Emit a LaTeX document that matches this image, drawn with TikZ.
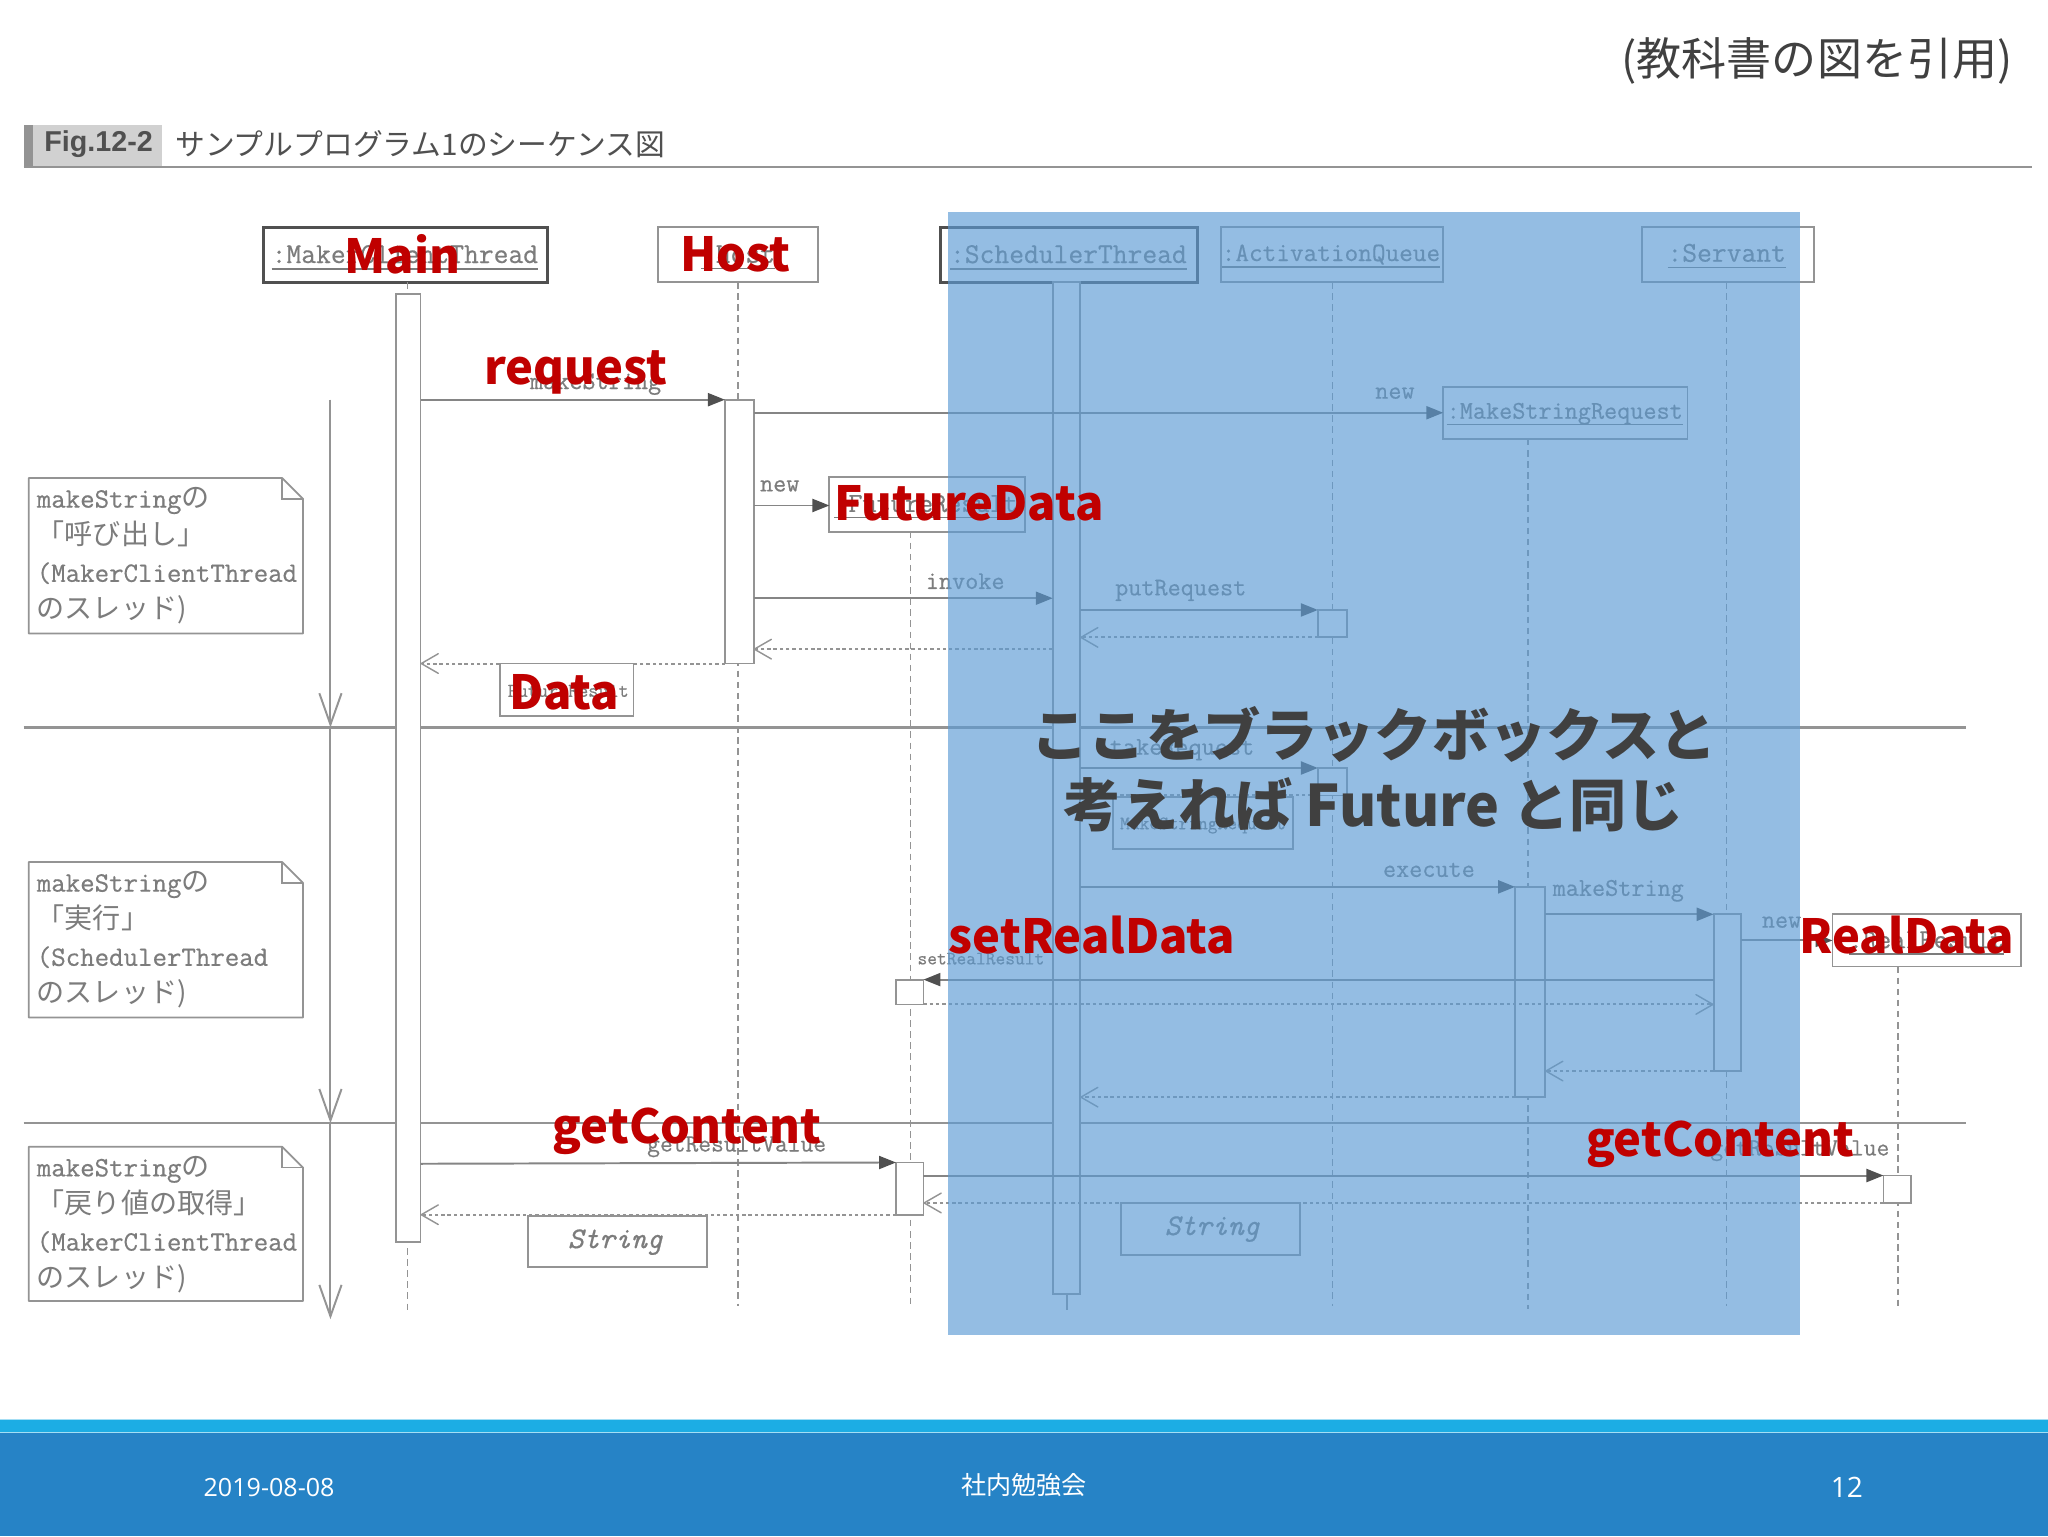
\documentclass[tikz,border=0pt]{standalone}
\usepackage{fontspec}
\usetikzlibrary{arrows.meta}
\newfontfamily\jpf{Noto Sans CJK JP}
\newfontfamily\opf{Open Sans}
\setmainfont{Liberation Sans}
\setmonofont[FakeBold=0.5]{Latin Modern Mono}
\definecolor{lgray}{HTML}{949494}
\definecolor{dgray}{HTML}{505050}
\definecolor{tgray}{HTML}{7C7C7C}
\definecolor{ovblue}{HTML}{5B9BD5}
\definecolor{txtdark}{HTML}{404040}
\definecolor{redlab}{HTML}{C00000}
\definecolor{bandlight}{HTML}{1CADE4}
\definecolor{bandblue}{HTML}{2683C6}
\newcommand{\fs}[1]{\fontsize{#1}{#1}\selectfont}
\newcommand{\myul}[1]{\setbox0\hbox{#1}\rlap{\rule[-5pt]{\wd0}{1.1pt}}\box0}
\tikzset{
  x=1pt,y=-1pt,
  boxbase/.style={draw=lgray,line width=1.4pt,fill=white,inner sep=0pt,outer sep=0pt,anchor=north west},
  headthick/.style={boxbase,draw=dgray,line width=2.2pt},
  actbox/.style={boxbase},
  lifedash/.style={draw=lgray,line width=1.1pt,dash pattern=on 5pt off 3.5pt},
  call/.style={draw=lgray!90!black,line width=1.5pt,-{Triangle[length=13pt,width=10pt,color=dgray]}},
  ret/.style={draw=lgray,line width=1.5pt,dash pattern=on 2.6pt off 2.2pt,-{Straight Barb[length=13pt,width=15pt,color=lgray,line width=1.1pt,round]}},
  time/.style={draw=lgray,line width=1.5pt,-{Straight Barb[length=24pt,width=17pt,line width=1.5pt]}},
  divider/.style={draw=lgray,line width=1.8pt},
  lab/.style={text=tgray,inner sep=0pt,font=\fs{19.5}\ttfamily},
  headlab/.style={text=tgray,inner sep=0pt,font=\fs{22}\ttfamily},
  notetxt/.style={text=tgray,inner sep=0pt,anchor=north west,align=left,font=\fontsize{21.5}{28.4}\selectfont\ttfamily},
  redlabel/.style={text=redlab,inner sep=0pt,font=\fs{36}\jpf\bfseries},
  bbtext/.style={text=txtdark,inner sep=0pt,align=center,font=\fontsize{43.8}{54}\selectfont\jpf\bfseries},
}
\newcommand{\objbox}[6]{\node[#1,minimum width=#4pt-#2pt,minimum height=#5pt-#3pt] (#6) at (#2,#3) {};}
\newcommand{\notebox}[6]{%
  \draw[line width=1.4pt,draw=lgray,fill=white,line join=round] (#2,#3) -- ({#4-16},#3) -- (#4,{#3+16}) -- (#4,#5) -- (#2,#5) -- cycle;
  \draw[line width=1.2pt,draw=lgray] ({#4-16},#3) -- ({#4-16},{#3+16}) -- (#4,{#3+16});
  \node[notetxt] (#1) at ({#2+6},{#3+7}) {#6};}
\begin{document}
\begin{tikzpicture}
\useasboundingbox (0,0) rectangle (1568,1176);
\fill[white] (0,0) rectangle (1568,1176);

% title strip
\fill[gray!85] (18,96) rectangle (25,128);
\fill[black!18] (25,96) rectangle (124,128);
\draw[lgray,line width=1.6pt] (18,128) -- (1556,128);
\node[inner sep=0pt,text=dgray,font=\fs{22}\bfseries] (figno) at (75.5,110) {Fig.12-2};
\node[inner sep=0pt,text=dgray,anchor=west,font=\fs{22.8}\jpf] (figttl) at (134,110) {サンプルプログラム1のシーケンス図};

% dividers
\coordinate (d1a) at (18,557); \coordinate (d1b) at (1505,557);
\coordinate (d2a) at (18,860); \coordinate (d2b) at (1505,860);
\draw[divider] (d1a) -- (d1b);
\draw[divider] (d2a) -- (d2b);

% time arrows
\coordinate (t0) at (253,306); \coordinate (t1) at (253,557); \coordinate (t2) at (253,860); \coordinate (t3) at (253,1010);
\draw[time] (t0) -- (t1);
\draw[time] (t1) -- (t2);
\draw[time] (t2) -- (t3);

% object heads
\objbox{headthick}{202}{174}{419}{216}{mainhead}
\objbox{boxbase}{504}{174}{626}{216}{hosthead}
\objbox{headthick}{720}{174}{917}{216}{schedhead}
\objbox{boxbase}{935}{174}{1105}{216}{queuehead}
\objbox{boxbase}{1257}{174}{1389}{216}{servhead}

% lifeline ends
\coordinate (mainend) at (312,1006);
\coordinate (hostend) at (565,1000);
\coordinate (futend) at (697,1000);
\coordinate (schedend) at (817,1003);
\coordinate (queueend) at (1020,1000);
\coordinate (reqend) at (1170,1002);
\coordinate (servend) at (1322,1000);
\coordinate (realend) at (1453,1002);

\objbox{boxbase}{1105}{296}{1292}{336}{reqhead}
\objbox{boxbase}{635}{365}{785}{407}{futhead}
\objbox{boxbase}{1403}{700}{1547}{740}{realhead}

\draw[lifedash] (mainhead.south -| mainend) -- (mainend);
\draw[lifedash] (hosthead.south -| hostend) -- (hostend);
\draw[lifedash] (futhead.south -| futend) -- (futend);
\draw[lgray,line width=1.2pt] (schedhead.south -| schedend) -- (schedend);
\draw[lifedash] (queuehead.south -| queueend) -- (queueend);
\draw[lifedash] (reqhead.south -| reqend) -- (reqend);
\draw[lifedash] (servhead.south -| servend) -- (servend);
\draw[lifedash] (realhead.south -| realend) -- (realend);

% activation bars
\objbox{actbox}{303}{225}{322}{951}{mainbar}
\objbox{actbox}{555}{306}{577}{508}{hostbar}
\objbox{actbox}{806}{216}{827}{991}{schedbar}
\objbox{actbox}{1009}{467}{1031}{488}{queuebarA}
\objbox{actbox}{1009}{588}{1031}{609}{queuebarB}
\objbox{actbox}{1160}{679}{1183}{840}{reqbar}
\objbox{actbox}{1312}{700}{1333}{820}{servbar}
\objbox{actbox}{686}{750}{707}{769}{futbarA}
\objbox{actbox}{686}{890}{707}{930}{futbarB}
\objbox{actbox}{1442}{900}{1463}{921}{realbar}

% head labels
\node[headlab] (mainlab) at (310,197) {\myul{:MakerClientThread}};
\node[headlab] (hostlab) at (565,197) {\myul{:Host}};
\node[headlab] (schedlab) at (818,197) {\myul{:SchedulerThread}};
\node[headlab,font=\fs{20.3}\ttfamily] (queuelab) at (1019,196) {\myul{:ActivationQueue}};
\node[headlab] (servlab) at (1322,196) {\myul{:Servant}};
\node[headlab,font=\fs{19.5}\ttfamily] (reqlab) at (1198,317) {\myul{:MakeStringRequest}};
\node[headlab,font=\fs{21}\ttfamily] (futlab) at (709,388) {\myul{:FutureResult}};
\node[headlab,font=\fs{21}\ttfamily] (reallab) at (1475,722) {\myul{:RealResult}};

% calls
\draw[call] (mainbar.east |- 0,306) -- (hostbar.west |- 0,306);
\draw[call] (hostbar.east |- 0,316) -- (reqhead.west |- 0,316);
\draw[call] (hostbar.east |- 0,387) -- (futhead.west |- 0,387);
\draw[call] (hostbar.east |- 0,458) -- (schedbar.west |- 0,458);
\draw[call] (schedbar.east |- 0,467) -- (queuebarA.north west);
\draw[call] (schedbar.east |- 0,588) -- (queuebarB.north west);
\draw[call] (schedbar.east |- 0,679) -- (reqbar.north west);
\draw[call] (reqbar.east |- 0,700) -- (servbar.north west);
\draw[call] (servbar.east |- 0,720) -- (realhead.west |- 0,720);
\draw[call] (servbar.west |- 0,750) -- (futbarA.north east);
\draw[call] (mainbar.east |- 0,891) -- (futbarB.north west);
\draw[call] (futbarB.east |- 0,900) -- (realbar.north west);

% returns
\draw[ret] (queuebarA.south west) -- (schedbar.east |- 0,488);
\draw[ret] (schedbar.west |- 0,497) -- (hostbar.east |- 0,497);
\draw[ret] (hostbar.south west) -- (mainbar.east |- 0,508);
\draw[ret] (queuebarB.south west) -- (schedbar.east |- 0,609);
\draw[ret] (futbarA.south east) -- (servbar.west |- 0,769);
\draw[ret] (servbar.south west) -- (reqbar.east |- 0,820);
\draw[ret] (reqbar.south west) -- (schedbar.east |- 0,840);
\draw[ret] (realbar.south west) -- (futbarB.east |- 0,921);
\draw[ret] (futbarB.south west) -- (mainbar.east |- 0,930);

% result boxes
\objbox{boxbase}{383}{508}{485}{548}{databox}
\node[lab,font=\fs{15}\ttfamily] (datalab) at (435,529) {FutureResult};
\objbox{boxbase}{852}{610}{990}{650}{reqres}
\node[lab,font=\fs{14.5}\ttfamily] (reqreslab) at (921,632) {MakeStringRequest};
\objbox{boxbase}{404}{931}{541}{970}{strA}
\node[lab,font=\fs{23}\ttfamily\itshape] (strAlab) at (471,951) {String};
\objbox{boxbase}{858}{921}{995}{961}{strB}
\node[lab,font=\fs{23}\ttfamily\itshape] (strBlab) at (928,941) {String};

% message labels
\node[lab] (m1) at (456,294) {makeString};
\node[lab] (m2) at (1068,301) {new};
\node[lab] (m3) at (597,372) {new};
\node[lab] (m4) at (739,445) {invoke};
\node[lab] (m5) at (904,452) {putRequest};
\node[lab] (m6) at (905,574) {takeRequest};
\node[lab] (m7) at (1094,666) {execute};
\node[lab] (m8) at (1239,682) {makeString};
\node[lab] (m9) at (1364,706) {new};
\node[lab,font=\fs{14.5}\ttfamily] (m10) at (751,734) {setRealResult};
\node[lab,font=\fs{19}\ttfamily] (m11) at (564,878) {getResultValue};
\node[lab,font=\fs{19}\ttfamily] (m12) at (1378,881) {getResultValue};

% notes
\notebox{noteA}{22}{366}{232}{485}{makeString{\jpf の}\\{\jpf 「呼び出し」}\\(MakerClientThread\\{\jpf のスレッド)}}
\notebox{noteB}{22}{660}{232}{779}{makeString{\jpf の}\\{\jpf 「実行」}\\(SchedulerThread\\{\jpf のスレッド)}}
\notebox{noteC}{22}{878}{232}{996}{makeString{\jpf の}\\{\jpf 「戻り値の取得」}\\(MakerClientThread\\{\jpf のスレッド)}}

% blue overlay
\fill[ovblue,fill opacity=0.65] (726,162) rectangle (1378,1022);

% overlay texts
\node[bbtext] (bb) at (1052,589) {ここをブラックボックスと\\考えれば Future と同じ};
\node[redlabel] (rMain) at (308,195) {Main};
\node[redlabel] (rHost) at (563,195) {Host};
\node[redlabel] (rReq) at (441,285) {request};
\node[redlabel] (rFut) at (742,385) {FutureData};
\node[redlabel] (rData) at (432,530) {Data};
\node[redlabel] (rSet) at (836,716) {setRealData};
\node[redlabel] (rReal) at (1460,716) {RealData};
\node[redlabel] (rGetA) at (526,866) {getContent};
\node[redlabel] (rGetB) at (1317,876) {getContent};

% top-right note
\node[inner sep=0pt,anchor=east,text=txtdark,font=\fs{34.5}\jpf] (cite) at (1541,47) {(教科書の図を引用)};

% footer
\fill[bandlight] (0,1087) rectangle (1568,1097);
\fill[bandblue] (0,1097) rectangle (1568,1176);
\draw[white!60!bandlight,line width=1pt] (0,1087) -- (1568,1087);
\draw[white!60!bandlight,line width=1pt] (0,1097) -- (1568,1097);
\node[inner sep=0pt,text=white,font=\fs{19.2}\opf] (fdate) at (206,1139) {2019-08-08};
\node[inner sep=0pt,text=white,font=\fs{19.2}\jpf] (fmid) at (784,1137) {社内勉強会};
\node[inner sep=0pt,text=white,font=\fs{21.5}\opf] (fnum) at (1414,1139) {12};
\end{tikzpicture}
\end{document}
